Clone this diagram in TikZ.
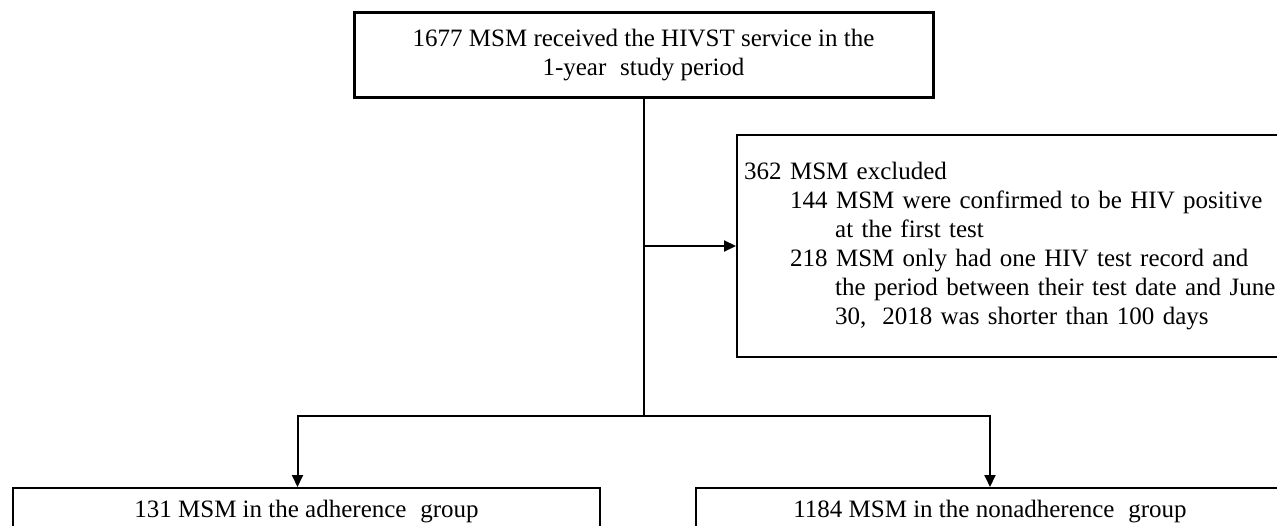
\documentclass[tikz,border=0pt]{standalone}
\usepackage{fontspec}
\setmainfont{Liberation Serif}
\usetikzlibrary{arrows.meta}
\begin{document}
\begin{tikzpicture}[x=1pt,y=-1pt,
  box/.style={draw=black, line width=2.4pt, inner sep=0pt, font=\fontsize{25}{29}\selectfont},
  conn/.style={line width=2pt},
  arr/.style={conn, -{Triangle[length=12pt,width=11pt]}}]
\useasboundingbox (0,0) rectangle (1277,526);
\clip (0,0) rectangle (1277,526);
\node[box, line width=3pt, minimum width=579pt, minimum height=85pt, align=center] (top) at (643.5,55.5)
  {1677 MSM received the HIVST service in the\\1-year\hspace{0.3em} study period};
\node[box, anchor=west, minimum height=222pt, inner xsep=7pt, text width=570pt, align=left] (excl) at (736,246)
  {362 MSM excluded\\
   \hspace*{46pt}144 MSM were confirmed to be HIV positive\\
   \hspace*{91pt}at the first test\\
   \hspace*{46pt}218 MSM only had one HIV test record and\\
   \hspace*{91pt}the period between their test date and June\\
   \hspace*{91pt}30,\hspace{0.3em} 2018 was shorter than 100 days};
\node[box, minimum width=587pt, minimum height=80pt, anchor=north] (adh) at (306.5,487) {};
\node[box, draw=none, anchor=center] (adht) at (306.5,512) {131 MSM in the adherence\hspace{0.3em} group};
\node[box, minimum width=588pt, minimum height=80pt, anchor=north] (non) at (990,487) {};
\node[box, draw=none, anchor=center] (nont) at (990,512) {1184 MSM in the nonadherence\hspace{0.3em} group};
\coordinate (j) at (643.5,416);
\draw[conn] (top.south) -- (j);
\draw[arr] (top.south |- excl.west) -- (excl.west);
\draw[arr] (j) -| ([xshift=-9pt]adh.north);
\draw[arr] (j) -| (non.north);
\end{tikzpicture}
\end{document}
